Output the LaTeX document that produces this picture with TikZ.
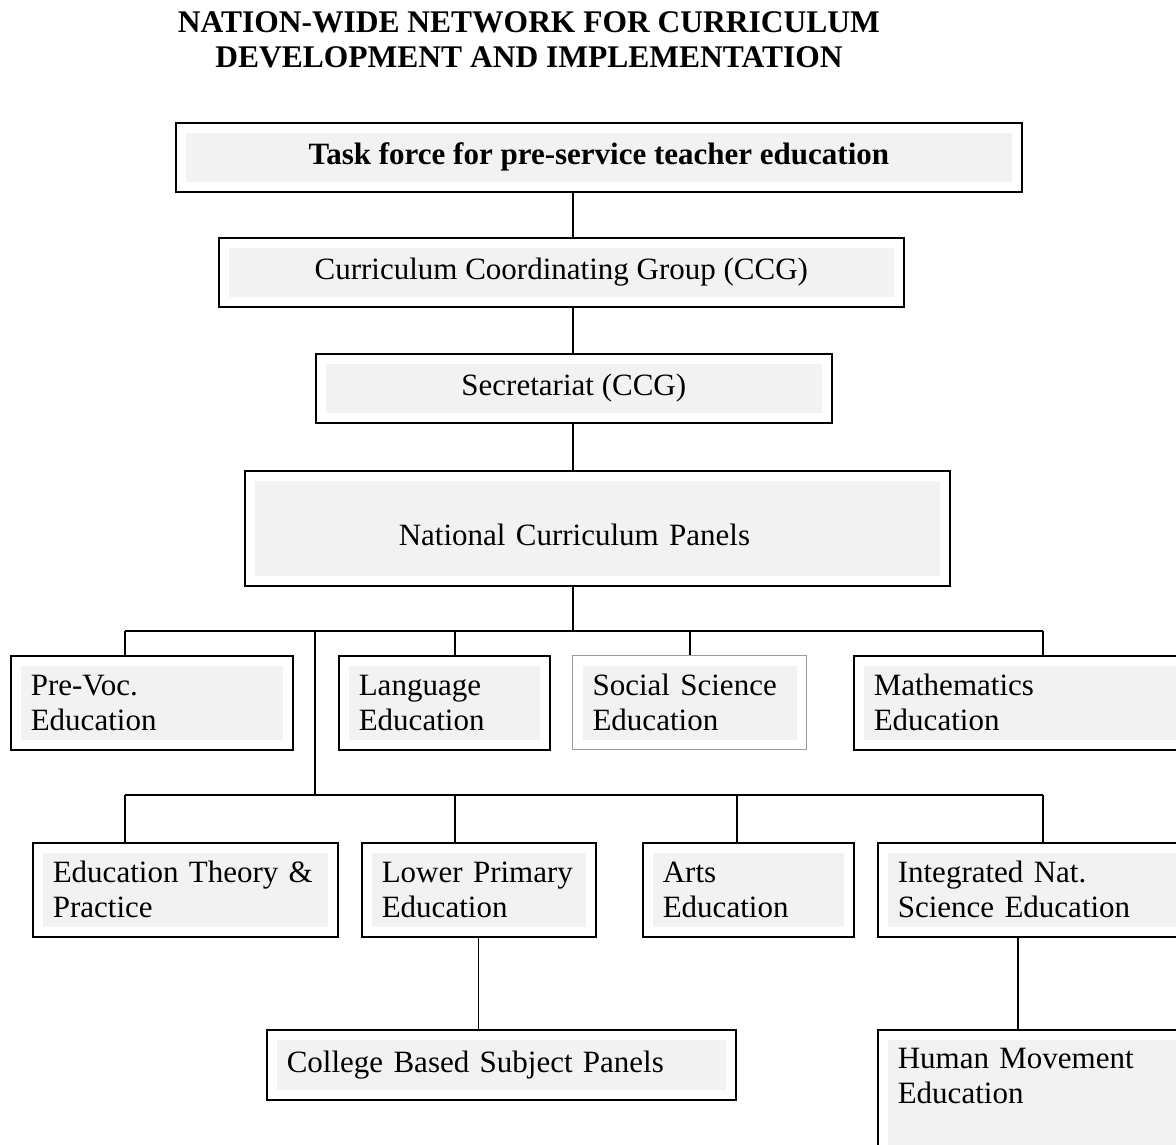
\documentclass[tikz,border=0pt]{standalone}
\usepackage{fontspec}
\setmainfont{Liberation Serif}
\usetikzlibrary{positioning}

\begin{document}
\begin{tikzpicture}[x=1pt, y=-1pt, font=\fontsize{31}{35}\selectfont,
    panel/.style={rectangle, draw, line width=1.6pt, fill=white, anchor=north west,
        inner xsep=20pt, inner ysep=0pt, align=left,
        path picture={\fill[black!5] ([shift={(10pt,-10pt)}]path picture bounding box.north west)
            rectangle ([shift={(-10pt,10pt)}]path picture bounding box.south east);}},
    link/.style={line width=1.3pt}]
    \useasboundingbox (0,0) rectangle (1176,1144);
    \clip (0,0) rectangle (1176,1144);

    \node [align=center, font=\fontsize{31.5}{35}\selectfont\bfseries] (title) at (529,40)
        {NATION-WIDE NETWORK FOR CURRICULUM\\DEVELOPMENT AND IMPLEMENTATION};

    % top column
    \node [panel, align=center, minimum width=846pt, minimum height=69pt,
        font=\fontsize{31}{35}\selectfont\bfseries] (task) at (175,122) {Task force for pre-service teacher education};
    \node [panel, align=center, minimum width=685pt, minimum height=69pt] (ccg) at (218,237) {Curriculum Coordinating Group (CCG)};
    \node [panel, align=center, minimum width=516pt, minimum height=69pt] (sec) at (315,353) {Secretariat (CCG)};
    \node [panel, text width=665pt, text height=35pt, minimum height=115pt] (ncp) at (244,470) {\hspace*{134pt}National Curriculum Panels};

    % first row of panels
    \node [panel, text width=242pt, minimum height=94pt] (prevoc) at (10,655) {Pre-Voc.\\Education};
    \node [panel, text width=171pt, minimum height=94pt] (lang) at (338,655) {Language\\Education};
    \node [panel, draw=black!40, line width=1.1pt, text width=194pt, minimum height=94pt] (social) at (572,655) {Social Science\\Education};
    \node [panel, text width=300pt, minimum height=94pt] (maths) at (853,655) {Mathematics\\Education};

    % second row of panels
    \node [panel, text width=265pt, minimum height=94pt] (edtheory) at (32,842) {Education Theory \&\\Practice};
    \node [panel, text width=194pt, minimum height=94pt] (lowprim) at (361,842) {Lower Primary\\Education};
    \node [panel, text width=171pt, minimum height=94pt] (arts) at (642,842) {Arts\\Education};
    \node [panel, text width=300pt, minimum height=94pt] (intsci) at (877,842) {Integrated Nat.\\Science Education};

    % bottom panels
    \node [panel, text width=429pt, minimum height=70pt] (college) at (266,1029) {College Based Subject Panels};
    \node [panel, text width=300pt, inner ysep=18pt, text depth=80pt] (human) at (877,1029) {Human Movement\\Education};

    \coordinate (spine) at (573,0);
    \coordinate (bara) at (125,631);
    \coordinate (barb) at (1043,631);
    \coordinate (fork) at (315,631);
    \coordinate (barc) at (125,795);
    \coordinate (bard) at (1043,795);
    \coordinate (hmdrop) at (1018,0);

    \draw [link] (task.south -| spine) -- (ccg.north -| spine);
    \draw [link] (ccg.south -| spine) -- (sec.north -| spine);
    \draw [link] (sec.south -| spine) -- (ncp.north -| spine);
    \draw [link] (ncp.south -| spine) -- (spine |- bara);

    \draw [link] (bara) -- (barb);
    \draw [link] (bara) -- (bara |- prevoc.north);
    \draw [link] (455,631) -- (lang.north -| 455,0);
    \draw [link] (690,631) -- (social.north -| 690,0);
    \draw [link] (barb) -- (barb |- maths.north);

    \draw [link] (fork) -- (fork |- barc);
    \draw [link] (barc) -- (bard);
    \draw [link] (barc) -- (barc |- edtheory.north);
    \draw [link] (455,795) -- (lowprim.north -| 455,0);
    \draw [link] (737,795) -- (arts.north -| 737,0);
    \draw [link] (bard) -- (bard |- intsci.north);

    \draw [link] (lowprim.south) -- (lowprim.south |- college.north);
    \draw [link] (intsci.south -| hmdrop) -- (human.north -| hmdrop);
\end{tikzpicture}
\end{document}
